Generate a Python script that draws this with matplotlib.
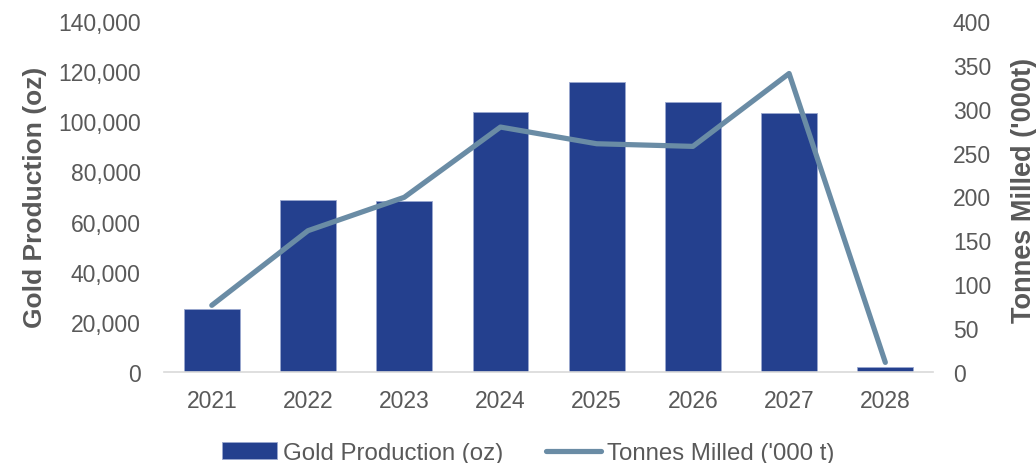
import matplotlib.pyplot as plt
import matplotlib.ticker as mticker
import numpy as np

plt.rcParams['font.family'] = ['Liberation Sans', 'DejaVu Sans']

years = ['2021', '2022', '2023', '2024', '2025', '2026', '2027', '2028']
gold_oz = [25100, 68500, 68000, 103600, 115500, 107800, 103200, 2000]
tonnes_kt = [76, 161, 199, 279, 260, 257, 340, 11]

bar_color = '#24408E'
line_color = '#6A8CA5'
text_color = '#595959'

fig = plt.figure(figsize=(10.36, 4.64), dpi=100)
ax = fig.add_axes([0.158, 0.196, 0.743, 0.757])
x = np.arange(len(years))

bars = ax.bar(x, gold_oz, width=0.58, color=bar_color, edgecolor='#9AA8CF', linewidth=0.6,
              label='Gold Production (oz)', zorder=2)
ax.set_xlim(-0.5, len(years) - 0.5)
ax.set_ylim(0, 140000)
ax.set_yticks(np.arange(0, 140001, 20000))
ax.yaxis.set_major_formatter(mticker.FuncFormatter(lambda v, p: f'{int(v):,}'))
ax.set_xticks(x)
ax.set_xticklabels(years)
ax.tick_params(axis='both', length=0, labelsize=16.5, colors=text_color)
ax.tick_params(axis='x', pad=12)
ax.tick_params(axis='y', pad=16.5)
ax.set_ylabel('Gold Production (oz)', fontsize=19, fontweight='bold', color=text_color, labelpad=8)
for s in ['top', 'right', 'left']:
    ax.spines[s].set_visible(False)
ax.spines['bottom'].set_color('#D9D9D9')
ax.spines['bottom'].set_linewidth(1.2)

ax2 = ax.twinx()
line, = ax2.plot(x, tonnes_kt, color=line_color, linewidth=3.75, solid_capstyle='round',
                 label="Tonnes Milled ('000 t)", zorder=3)
ax2.set_ylim(0, 400)
ax2.set_yticks(np.arange(0, 401, 50))
ax2.tick_params(axis='y', length=0, labelsize=16.5, colors=text_color, pad=14)
ax2.set_ylabel("Tonnes Milled ('000t)", fontsize=19.5, fontweight='bold', color=text_color)
ax2.yaxis.set_label_coords(1.101, 0.52)
for s in ['top', 'right', 'left', 'bottom']:
    ax2.spines[s].set_visible(False)

fig.legend([bars, line], ['Gold Production (oz)', "Tonnes Milled ('000 t)"],
           loc='center', bbox_to_anchor=(0.5097, 10 / 464), ncol=2, frameon=False,
           fontsize=17.3, labelcolor=text_color, handlelength=2.3, columnspacing=1.75,
           handletextpad=0.25, borderaxespad=0, borderpad=0)

fig.savefig('out.png', dpi=100)
